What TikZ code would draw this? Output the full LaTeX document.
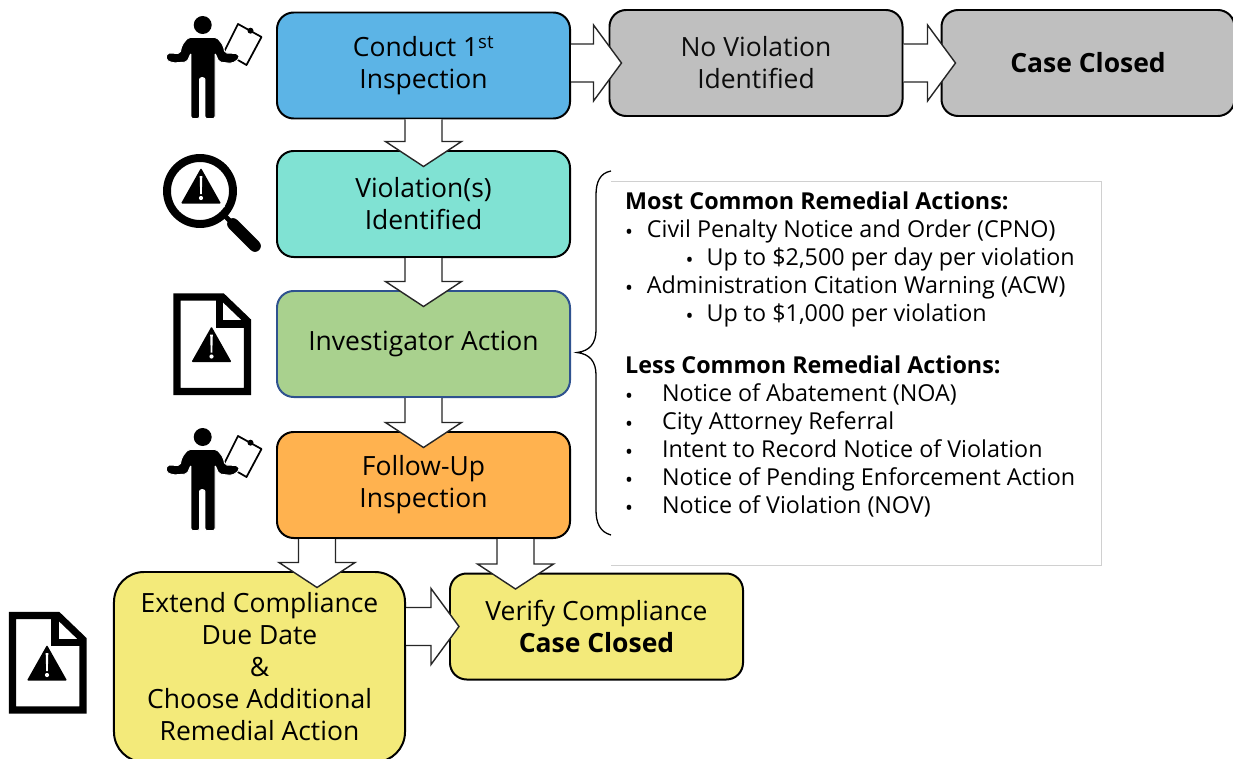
\documentclass[tikz,border=0pt]{standalone}
\usepackage{fontspec}
\usepackage{xcolor}
\usepackage{tikz}
\usetikzlibrary{calc}
\setmainfont{Open Sans}

\definecolor{boxblue}{HTML}{5CB4E6}
\definecolor{boxgray}{HTML}{BFBFBF}
\definecolor{boxteal}{HTML}{80E2D3}
\definecolor{boxgreen}{HTML}{A9D18E}
\definecolor{boxorange}{HTML}{FFB24F}
\definecolor{boxyellow}{HTML}{F3EA7A}
\definecolor{edgeblue}{HTML}{2F528F}
\definecolor{panelgray}{HTML}{D0D0D0}

\tikzset{
  box/.style={draw=black,line width=1.7pt,rounded corners=0.5cm,align=center,inner sep=0pt,
    minimum width=8.79cm,minimum height=3.18cm,font=\fontsize{22.6}{27.3}\selectfont},
  blockarrow/.style={draw=black!85,fill=white,line width=1.2pt,line join=miter},
  paneltext/.style={anchor=north west,align=left,inner sep=0pt,
    font=\fontsize{19.9}{23.9}\selectfont},
  warnsign/.pic={
    \fill[white] (-24,39) -- (0,-4) -- (24,39) -- cycle;
    \fill[black,rounded corners=0.03cm] (-20,35.5) -- (0,0) -- (20,35.5) -- cycle;
    \fill[white] (-1.3,8) -- (1.3,8) -- (0.8,26) -- (-0.8,26) -- cycle;
    \fill[white] (0,30) circle (2.1);
  },
  docicon/.pic={
    \draw[black,line width=6pt,fill=white,line join=miter] (3.5,3.5) -- (49,3.5) -- (74,27.5) -- (74,98) -- (3.5,98) -- cycle;
    \draw[black,line width=6pt] (46,3) |- (75,30.5);
    \pic at (38,33) {warnsign};
  },
  personicon/.pic={
    % Clipboard
    \draw[black,line width=1.5pt,fill=white,line join=round] (72,7) -- (95.5,20) -- (80.5,48) -- (58,35) -- cycle;
    \fill[black] (84.5,13.7) circle (3);
    % Figure
    \fill[black] (36.7,8) circle (9);
    \draw[white,line width=0.8pt,fill=black,line join=round,rounded corners=0.06cm] (25,101.5) -- (25,36) -- (21,45) -- (7,46) -- (0,43) -- (1,36) -- (14,36.5)
      -- (16,28) -- (22,20.5) -- (51,20.5) -- (57,28) -- (59,36) -- (72,36.5) -- (73.5,41.5) -- (66,46.5) -- (53,45) -- (49,36) -- (49,101.5)
      -- (39,101.5) -- (39,60.7) -- (33.5,60.7) -- (33.5,101.5) -- cycle;
  },
  lensicon/.pic={
    \draw[black,line width=6.8pt] (37,37) circle (33);
    \draw[black,line width=4pt] (60,60) -- (70,70);
    \draw[black,line width=10pt,line cap=round] (70,70) -- (92,92);
    \pic at (38,14) {warnsign};
  }
}

\newcommand{\blockdown}[3]{%
  \coordinate (tip) at ($(#1.south |- #2.north)+(#3,16.5)$);
  \draw[blockarrow] ($(#1.south)+(#3-18.5,0)$) -- ($(tip)+(-18.5,-25)$) -- ($(tip)+(-38,-25)$) -- (tip)
    -- ($(tip)+(38,-25)$) -- ($(tip)+(18.5,-25)$) -- ($(#1.south)+(#3+18.5,0)$);
}
\newcommand{\blockright}[3]{%
  \coordinate (tip) at ($(#2.west)+(#3,0)$);
  \draw[blockarrow] ($(#1.east |- tip)+(0,-19)$) -- ($(tip)+(-28,-19)$) -- ($(tip)+(-28,-38)$) -- (tip)
    -- ($(tip)+(-28,38)$) -- ($(tip)+(-28,19)$) -- ($(#1.east |- tip)+(0,19)$);
}
\newcommand{\itm}[2]{\hspace*{#1}\makebox[0pt][l]{\raisebox{-0.1ex}{\fontsize{18}{18}\selectfont\textbullet}}#2}

\begin{document}
\begin{tikzpicture}[x=0.03cm,y=-0.03cm]
  \clip (0,0) rectangle (1233,759);

  % Panel
  \draw[panelgray,line width=0.8pt] (611,181) -- (1101,181) -- (1101,565) -- (611,565);
  \node[paneltext] (mostcommon) at (625,192) {\textbf{Most Common Remedial Actions:}\\
    \itm{0pt}{\hspace*{18.5pt}Civil Penalty Notice and Order (CPNO)}\\
    \itm{51.5pt}{\hspace*{18pt}Up to \$2,500 per day per violation}\\
    \itm{0pt}{\hspace*{18.5pt}Administration Citation Warning (ACW)}\\
    \itm{51.5pt}{\hspace*{18pt}Up to \$1,000 per violation}};
  \node[paneltext] (lesscommon) at (625,356) {\textbf{Less Common Remedial Actions:}\\
    \itm{0pt}{\hspace*{31.5pt}Notice of Abatement (NOA)}\\
    \itm{0pt}{\hspace*{31.5pt}City Attorney Referral}\\
    \itm{0pt}{\hspace*{31.5pt}Intent to Record Notice of Violation}\\
    \itm{0pt}{\hspace*{31.5pt}Notice of Pending Enforcement Action}\\
    \itm{0pt}{\hspace*{31.5pt}Notice of Violation (NOV)}};

  % Brace
  \draw[black,line width=1.1pt] (611,171) .. controls (600,173) and (596,182) .. (596,195)
    -- (596,330) .. controls (596,343) and (590,351) .. (577,352.5)
    .. controls (590,354) and (596,362) .. (596,375)
    -- (596,510) .. controls (596,523) and (600,532) .. (611,535);

  % Boxes
  \node[box,fill=boxblue] (conduct) at (423.5,65.5) {Conduct 1\textsuperscript{st}\\Inspection};
  \node[box,fill=boxgray,text=black!95] (noviolation) at (756,63) {No Violation\\Identified};
  \node[box,fill=boxgray] (caseclosed) at (1088,63) {\textbf{Case Closed}};
  \node[box,fill=boxteal] (violation) at (423.5,204) {Violation(s)\\Identified};
  \node[box,fill=boxgreen,draw=edgeblue] (investigator) at (423.5,344) {Investigator Action};
  \node[box,fill=boxorange] (followup) at (423.5,485) {Follow-Up\\Inspection};
  \node[box,fill=boxyellow,rounded corners=0.9cm,minimum width=8.73cm,minimum height=5.7cm] (extend) at (259.5,667)
    {Extend Compliance\\Due Date\\\&\\Choose Additional\\Remedial Action};
  \node[box,fill=boxyellow] (verify) at (596.5,626.5) {Verify Compliance\\\textbf{Case Closed}};

  % Arrows
  \blockright{conduct}{noviolation}{13}
  \blockright{noviolation}{caseclosed}{15}
  \blockright{extend}{verify}{10}
  \blockdown{conduct}{violation}{0}
  \blockdown{violation}{investigator}{0}
  \blockdown{investigator}{followup}{0}
  \blockdown{followup}{extend}{-106.5}
  \blockdown{followup}{verify}{92}

  % Icons
  \pic at (166,17) {personicon};
  \pic at (166,429) {personicon};
  \pic at (163,154) {lensicon};
  \pic at (173.5,293.5) {docicon};
  \pic at (9,612) {docicon};
\end{tikzpicture}
\end{document}
